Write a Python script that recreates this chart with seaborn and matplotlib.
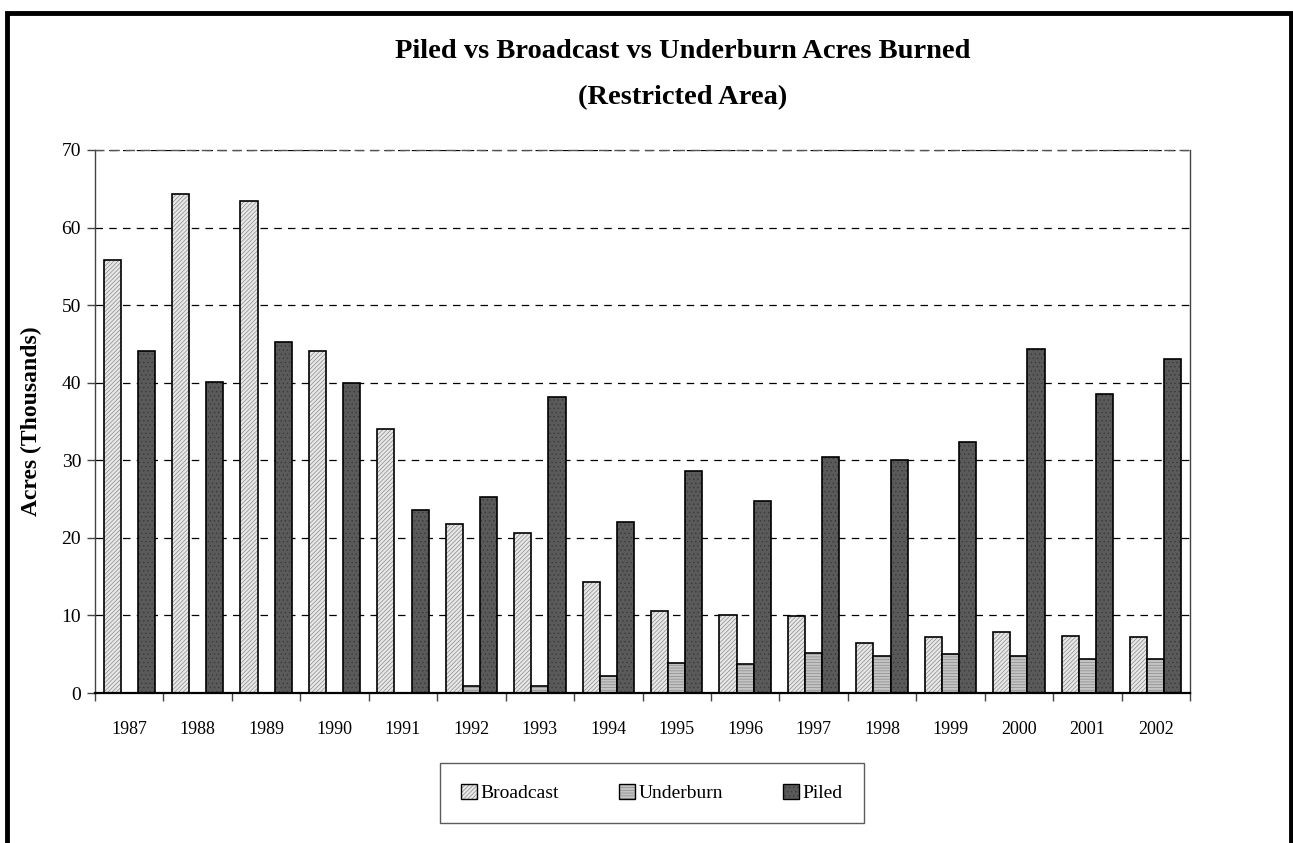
import pandas as pd
import matplotlib
matplotlib.use("Agg")
import matplotlib.pyplot as plt
import seaborn as sns
from matplotlib.colors import to_rgba
from matplotlib.patches import Patch, Rectangle
from matplotlib.ticker import FixedLocator, NullFormatter

# DATA (thousands of acres)
years = [str(y) for y in range(1987, 2003)]
broadcast = [55.8, 64.3, 63.4, 44.1, 34.0, 21.8, 20.6, 14.3,
             10.6, 10.1, 9.9, 6.5, 7.2, 7.8, 7.3, 7.2]
underburn = [0, 0, 0, 0, 0, 0.9, 0.9, 2.2,
             3.9, 3.7, 5.2, 4.8, 5.0, 4.8, 4.4, 4.4]
piled = [44.1, 40.1, 45.2, 40.0, 23.6, 25.3, 38.1, 22.1,
         28.6, 24.7, 30.4, 30.1, 32.3, 44.4, 38.6, 43.1]
series = ["Broadcast", "Underburn", "Piled"]

df = pd.DataFrame({"Year": years, "Broadcast": broadcast,
                   "Underburn": underburn, "Piled": piled})
long_df = df.melt(id_vars="Year", var_name="Type", value_name="Acres")

# styling per series: fill, hatch, hatch colour
styles = {
    "Broadcast": ("#e8e8e8", "////////", "#8a8a8a"),
    "Underburn": ("#c4c4c4", "------", "#8a8a8a"),
    "Piled": ("#5a5a5a", "....", "#3a3a3a"),
}

sns.set_theme(style="white")
plt.rcParams["font.family"] = ["Liberation Serif", "DejaVu Serif"]
plt.rcParams["hatch.linewidth"] = 0.5
plt.rcParams["text.color"] = "black"
plt.rcParams["axes.labelcolor"] = "black"
plt.rcParams["xtick.color"] = "black"
plt.rcParams["ytick.color"] = "black"

fig = plt.figure(figsize=(12.93, 8.43), dpi=100)
ax = fig.add_axes([95 / 1293, 1 - 693 / 843, (1190 - 95) / 1293, (693 - 150) / 843])

sns.barplot(data=long_df, x="Year", y="Acres", hue="Type", hue_order=series,
            width=0.75, ax=ax, legend=False, edgecolor="black", linewidth=1.2)

for name, cont in zip(series, ax.containers):
    fc, hatch, hc = styles[name]
    for bar in cont:
        bar.set_facecolor(fc)
        bar.set_edgecolor("black")
        bar.set_hatch(hatch)
        bar._hatch_color = to_rgba(hc)

ax.set_ylim(0, 70)
ax.set_yticks(range(0, 71, 10))
ax.set_xlim(-0.5, len(years) - 0.5)
ax.yaxis.grid(True, linestyle=(0, (6, 5)), color="black", linewidth=0.9)
ax.set_axisbelow(True)
for s in ax.spines.values():
    s.set_color("#444444")
    s.set_linewidth(1.0)
ax.spines["top"].set_linestyle((0, (6, 5)))
ax.spines["top"].set_color("#555555")
ax.spines["bottom"].set_color("black")
ax.spines["bottom"].set_linewidth(1.6)

ax.tick_params(axis="y", which="major", left=True, length=6, width=1,
               color="#444444", labelsize=14, pad=4)
ax.tick_params(axis="x", which="major", bottom=False, labelsize=13, pad=14)
ax.xaxis.set_minor_locator(FixedLocator([i - 0.5 for i in range(len(years) + 1)]))
ax.xaxis.set_minor_formatter(NullFormatter())
ax.tick_params(axis="x", which="minor", bottom=True, length=6, width=1, color="#444444")
ax.set_xlabel("")
ax.set_ylabel("Acres (Thousands)", fontsize=17, fontweight="bold", labelpad=14)

fig.text(0.528, 1 - 52 / 843, "Piled vs Broadcast vs Underburn Acres Burned",
         ha="center", va="center", fontsize=20.5, fontweight="bold")
fig.text(0.528, 1 - 98 / 843, "(Restricted Area)",
         ha="center", va="center", fontsize=20.5, fontweight="bold")

handles = []
for name in series:
    fc, hatch, hc = styles[name]
    p = Patch(facecolor=fc, edgecolor="black", hatch=hatch, label=name)
    handles.append(p)
leg = fig.legend(handles=handles, loc="center", bbox_to_anchor=(652 / 1293, 1 - 793 / 843),
                 ncol=3, frameon=True, fancybox=False, fontsize=14,
                 handlelength=0.8, handleheight=0.8, handletextpad=0.2,
                 columnspacing=3.1, borderpad=1.1, edgecolor="#333333")
leg.get_frame().set_linewidth(1.0)
for h, name in zip(leg.legend_handles, series):
    h._hatch_color = to_rgba(styles[name][2])

# outer frame around the figure
fig.patches.append(Rectangle((7 / 1293, -0.05), (1291 - 7) / 1293, 1.05 - 13 / 843,
                             transform=fig.transFigure, fill=False,
                             edgecolor="black", linewidth=3.5))

fig.savefig("out.png", dpi=100)
